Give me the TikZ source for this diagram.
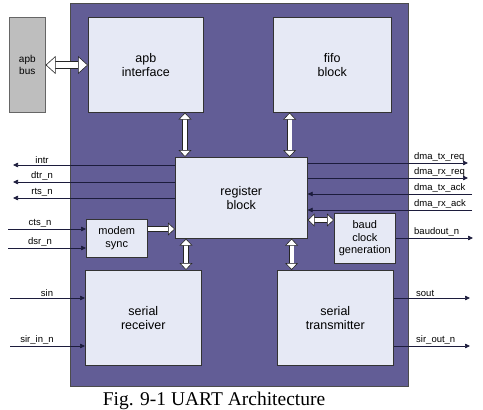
\documentclass[tikz,border=0pt]{standalone}
\usepackage{fontspec}
\setmainfont{Liberation Serif}
\setsansfont{Liberation Sans}
\usepackage{tikz}
\usetikzlibrary{arrows.meta, positioning}
\definecolor{uartpurple}{HTML}{625D96}
\definecolor{blockfill}{HTML}{E6E9F5}
\definecolor{busgray}{HTML}{BEBEBE}
\definecolor{wireblue}{HTML}{1C1C3C}

\begin{document}
\begin{tikzpicture}[
    x=1pt, y=-1pt,
    font=\sffamily,
    blk/.style={draw=black!80, fill=blockfill, line width=0.6pt, anchor=north west,
                align=center, inner sep=0pt, font=\sffamily\fontsize{12.5}{14.5}\selectfont},
    smallblk/.style={blk, font=\sffamily\fontsize{11}{12.5}\selectfont},
    sig/.style={draw=wireblue, line width=0.7pt, -{Triangle[length=5pt,width=4.5pt]}},
    lbl/.style={font=\sffamily\fontsize{9.5}{11}\selectfont, inner sep=1pt},
    bus/.style={draw=black!85, line width=0.6pt, double=white, double distance=4pt,
                {Triangle[open, fill=white, length=7pt, width=13pt]}-{Triangle[open, fill=white, length=7pt, width=13pt]}},
    onebus/.style={bus, -{Triangle[open, fill=white, length=7pt, width=13pt]}},
    widebus/.style={bus, double distance=6pt,
                {Triangle[open, fill=white, length=10pt, width=18pt]}-{Triangle[open, fill=white, length=10pt, width=18pt]}}
]
\useasboundingbox (0,0) rectangle (483,410);

% chip outline
\node[draw=black!70, fill=uartpurple, anchor=north west, inner sep=0pt,
      minimum width=338pt, minimum height=383pt] (uart) at (70,3) {};

\node[smallblk, fill=busgray, draw=black!60, minimum width=36pt, minimum height=95pt,
      font=\sffamily\fontsize{10}{12}\selectfont] (apbbus) at (9,17) {apb\\bus};

\node[blk, minimum width=115pt, minimum height=95pt] (apbif) at (88,17) {apb\\interface};
\node[blk, minimum width=118pt, minimum height=95pt] (fifo) at (273,17) {fifo\\block};
\node[blk, minimum width=132pt, minimum height=81pt] (regblk) at (175,157) {register\\block};
\node[smallblk, minimum width=61pt, minimum height=38pt] (modem) at (86,219) {modem\\sync};
\node[smallblk, minimum width=61pt, minimum height=50pt] (baud) at (334,213) {baud\\clock\\generation};
\node[blk, minimum width=116pt, minimum height=95pt] (serrx) at (85,270) {serial\\receiver};
\node[blk, minimum width=116pt, minimum height=95pt] (sertx) at (277,270) {serial\\transmitter};

% free ends of the pins
\coordinate (intr) at (13,165);
\coordinate (dtr) at (13,182);
\coordinate (rts) at (13,198);
\coordinate (cts) at (8,229);
\coordinate (dsr) at (8,248);
\coordinate (txreq) at (468,163);
\coordinate (rxreq) at (468,178);
\coordinate (txack) at (472,194);
\coordinate (rxack) at (472,210);
\coordinate (baudout) at (473,238);
\coordinate (sin) at (10,298);
\coordinate (sirin) at (10,346);
\coordinate (sout) at (470,298);
\coordinate (sirout) at (470,346);

% internal buses
\draw[widebus] (apbbus.east |- 0,65) -- (apbif.west |- 0,65);
\draw[bus] ([xshift=10pt]regblk.north west |- apbif.south) -- ([xshift=10pt]regblk.north west);
\draw[bus] ([xshift=-18pt]regblk.north east |- fifo.south) -- ([xshift=-18pt]regblk.north east);
\draw[bus] ([xshift=11pt]regblk.south west) -- ([xshift=11pt]regblk.south west |- serrx.north);
\draw[bus] ([xshift=-16pt]regblk.south east) -- ([xshift=-16pt]regblk.south east |- sertx.north);
\draw[onebus] (modem.east |- 0,229) -- (regblk.west |- 0,229);
\draw[bus] (regblk.east |- 0,220) -- (baud.west |- 0,220);

% pins
\draw[sig] (regblk.west |- intr) -- (intr);
\draw[sig] (regblk.west |- dtr) -- (dtr);
\draw[sig] (regblk.west |- rts) -- (rts);
\draw[sig] (cts) -- (modem.west |- cts);
\draw[sig] (dsr) -- (modem.west |- dsr);
\draw[sig] (regblk.east |- txreq) -- (txreq);
\draw[sig] (regblk.east |- rxreq) -- (rxreq);
\draw[sig] (txack) -- (regblk.east |- txack);
\draw[sig] (rxack) -- (regblk.east |- rxack);
\draw[sig] (baud.east |- baudout) -- (baudout);
\draw[sig] (sin) -- (serrx.west |- sin);
\draw[sig] (sirin) -- (serrx.west |- sirin);
\draw[sig] (sertx.east |- sout) -- (sout);
\draw[sig] (sertx.east |- sirout) -- (sirout);

\node[lbl, above] at ([xshift=29pt]intr) {intr};
\node[lbl, above] at ([xshift=29pt]dtr) {dtr\_n};
\node[lbl, above] at ([xshift=29pt]rts) {rts\_n};
\node[lbl, above] at ([xshift=32pt]cts) {cts\_n};
\node[lbl, above] at ([xshift=32pt]dsr) {dsr\_n};
\node[lbl, above] at ([xshift=37pt]sin) {sin};
\node[lbl, above] at ([xshift=27pt]sirin) {sir\_in\_n};
\node[lbl, anchor=south west] at ([xshift=-55pt]txreq) {dma\_tx\_req};
\node[lbl, anchor=south west] at ([xshift=-55pt]rxreq) {dma\_rx\_req};
\node[lbl, anchor=south west] at ([xshift=-59pt]txack) {dma\_tx\_ack};
\node[lbl, anchor=south west] at ([xshift=-59pt]rxack) {dma\_rx\_ack};
\node[lbl, anchor=south west] at ([xshift=-60pt]baudout) {baudout\_n};
\node[lbl, anchor=south west] at ([xshift=-55pt]sout) {sout};
\node[lbl, anchor=south west] at ([xshift=-55pt]sirout) {sir\_out\_n};

\node[anchor=base, inner sep=0pt, font=\rmfamily\fontsize{19.5}{22}\selectfont] (caption) at (214,405)
    {Fig. 9-1 UART Architecture};

\end{tikzpicture}
\end{document}
